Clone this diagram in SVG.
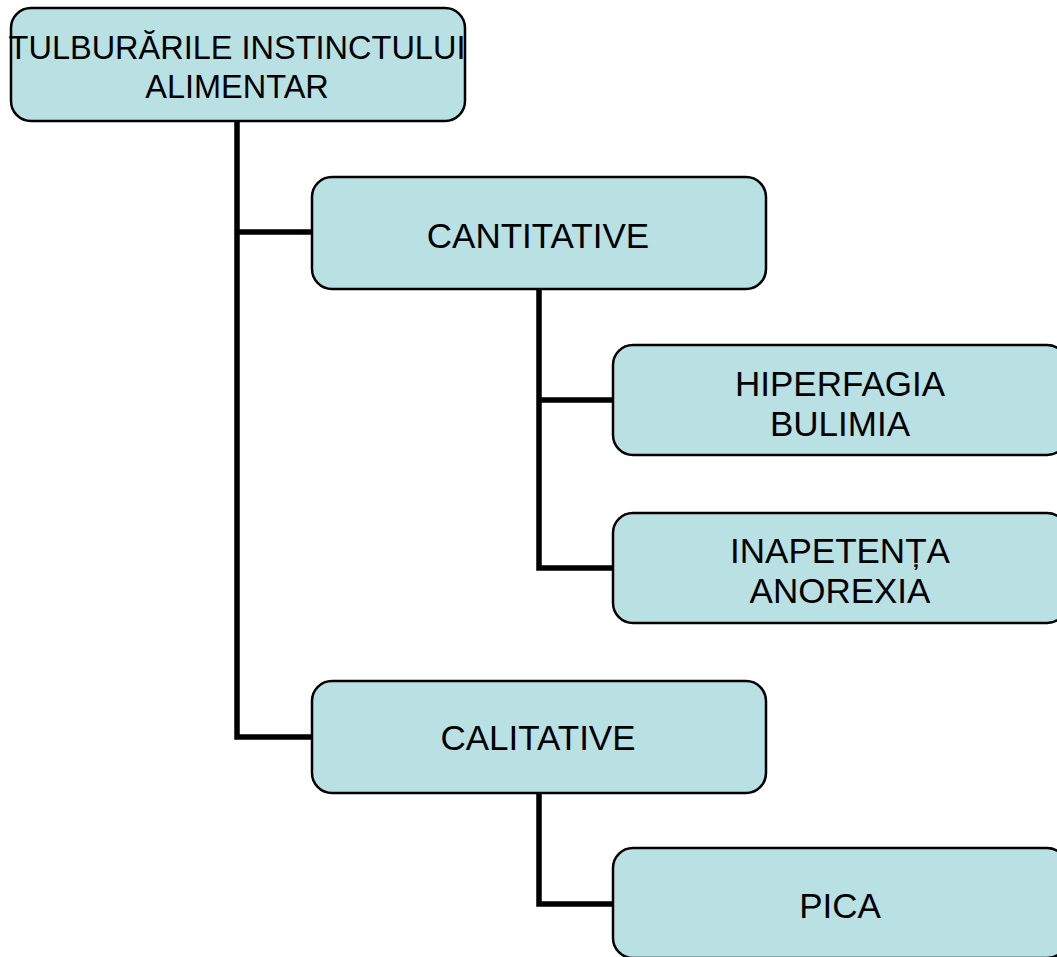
<svg xmlns="http://www.w3.org/2000/svg" width="1057" height="957" viewBox="0 0 1057 957">
<style>
.box{fill:#b9e0e3;stroke:#000;stroke-width:2.5}
.t{font-family:"Liberation Sans",Arial,sans-serif;font-size:35px;fill:#000;text-anchor:middle}
.r{font-size:32.5px}
.c{fill:none;stroke:#000;stroke-width:5.5;stroke-linejoin:miter}
</style>
<rect width="1057" height="957" fill="#fff"/>
<g id="connectors">
<path class="c" d="M237 121 V737 H312 M237 232 H312"/>
<path class="c" d="M539 289 V568 H613 M539 400 H613"/>
<path class="c" d="M539 793 V904 H613"/>
</g>
<g id="root">
<rect class="box" x="11" y="8" width="454" height="113" rx="20"/>
<text class="t r" x="237" y="59">TULBURĂRILE INSTINCTULUI</text>
<text class="t r" x="237" y="98">ALIMENTAR</text>
</g>
<g id="cantitative">
<rect class="box" x="312" y="177" width="454" height="112" rx="20"/>
<text class="t" x="538" y="248">CANTITATIVE</text>
</g>
<g id="hiperfagia">
<rect class="box" x="613" y="345" width="454" height="110" rx="20"/>
<text class="t" x="840" y="396">HIPERFAGIA</text>
<text class="t" x="840" y="436">BULIMIA</text>
</g>
<g id="inapetenta">
<rect class="box" x="613" y="513" width="454" height="110" rx="20"/>
<text class="t" x="840" y="563">INAPETENȚA</text>
<text class="t" x="840" y="603">ANOREXIA</text>
</g>
<g id="calitative">
<rect class="box" x="312" y="681" width="454" height="112" rx="20"/>
<text class="t" x="538" y="750">CALITATIVE</text>
</g>
<g id="pica">
<rect class="box" x="613" y="848" width="454" height="110" rx="20"/>
<text class="t" x="840" y="918">PICA</text>
</g>
</svg>
